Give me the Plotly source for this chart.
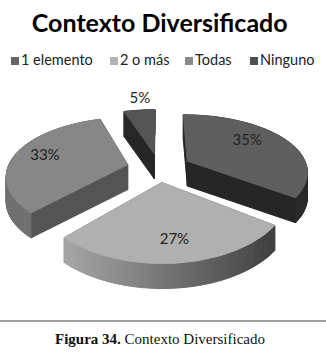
import math
import plotly.graph_objects as go

# Data
categories = ["1 elemento", "2 o más", "Todas", "Ninguno"]
shares = [35, 27, 33, 5]
title_text = "Contexto Diversificado"
caption_bold = "Figura 34."
caption_rest = " Contexto Diversificado"

# Style
top_colors = ["#5f5f5f", "#b0b0b0", "#878787", "#555555"]
legend_colors = ["#666666", "#b4b4b4", "#8a8a8a", "#505050"]
rim_colors = [(42, 42), (165, 62), (112, 128), (40, 40)]
wall_colors = ["#262626", "#555555", "#545454", "#262626"]
explode = [0.27, 0.24, 0.27, 0.26]
label_radius = [0.68, 0.76, 0.74, 1.32]
label_shift = [-8, -1, 0, 2]
legend_x = [15, 114, 189, 254]
LEGEND_Y = 61
CX, CY, R, TILT_R, DIST_X, DIST_Y, DEPTH = 159, 168, 120, 58, 6.0, 5.0, 25


def project(u, v, z=0.0):
    return (CX + R * u * DIST_X / (DIST_X + v),
            CY - TILT_R * v * DIST_Y / (DIST_Y + v) + z * DEPTH)


def poly(points, color):
    xs = [p[0] for p in points] + [points[0][0]]
    ys = [p[1] for p in points] + [points[0][1]]
    return go.Scatter(x=xs, y=ys, mode="lines", fill="toself", fillcolor=color,
                      line=dict(color=color, width=1), showlegend=False, hoverinfo="skip")


fig = go.Figure()
total = sum(shares)
spans = []
a = 0.0
for v in shares:
    b = a + 360.0 * v / total
    spans.append((a, b))
    a = b


def slice_frame(i):
    a0, a1 = spans[i]
    mid = math.radians((a0 + a1) / 2)
    ox, oy = explode[i] * math.sin(mid), explode[i] * math.cos(mid)

    def pt(ang, r=1.0):
        return (ox + r * math.sin(math.radians(ang)), oy + r * math.cos(math.radians(ang)))

    return a0, a1, pt


# back to front
for i in [3, 0, 2, 1]:
    a0, a1, pt = slice_frame(i)
    n = max(6, int((a1 - a0) / 1.5))
    angs = [a0 + (a1 - a0) * k / n for k in range(n + 1)]
    apex = pt(0, 0)
    for ang in (a0, a1):
        e = pt(ang)
        fig.add_trace(poly([project(*apex), project(*e), project(*e, 1), project(*apex, 1)], wall_colors[i]))
    c0, c1 = rim_colors[i]
    for k in range(n):
        p, q = pt(angs[k]), pt(angs[k + 1])
        f = min(1, max(0, (project(*p)[0] - 70) / 210))
        g = int(c1 + (c0 - c1) * (1 - f))
        col = f"rgb({g},{g},{g})"
        fig.add_trace(poly([project(*p), project(*q), project(*q, 1), project(*p, 1)], col))
    top = [project(*apex)] + [project(*pt(x)) for x in angs]
    fig.add_trace(poly(top, top_colors[i]))
    mid = (a0 + a1) / 2 + label_shift[i]
    lx, ly = project(*pt(mid, label_radius[i]))
    fig.add_trace(go.Scatter(x=[lx], y=[ly], mode="text", text=[f"{shares[i]}%"],
                             textfont=dict(family="Lato", size=15, color="#222222"),
                             showlegend=False, hoverinfo="skip"))

# legend row
for name, col, lx in zip(categories, legend_colors, legend_x):
    fig.add_trace(go.Scatter(x=[lx], y=[LEGEND_Y], mode="markers+text", name=name, text=[name],
                             textposition="middle right",
                             textfont=dict(family="Lato", size=14.5, color="#222222"),
                             marker=dict(symbol="square", size=8, color=col), showlegend=False))

fig.add_shape(type="line", xref="paper", yref="y", x0=0, x1=1, y0=321, y1=321,
              line=dict(color="#808080", width=1.5))
fig.add_annotation(x=160, y=338.5, text=f"<b>{caption_bold}</b>{caption_rest}", showarrow=False,
                   font=dict(family="Liberation Serif", size=15, color="#111111"))

fig.update_layout(
    width=326, height=356, margin=dict(l=0, r=0, t=0, b=0),
    paper_bgcolor="white", plot_bgcolor="white",
    title=dict(text=f"<b>{title_text}</b>", x=0.49, xanchor="center", y=0.935, yanchor="middle",
               font=dict(family="Lato", size=25, color="#000000")),
    xaxis=dict(range=[0, 326], visible=False, fixedrange=True),
    yaxis=dict(range=[356, 0], visible=False, fixedrange=True),
)
fig.write_html("out.html", config={"displayModeBar": False},
               post_script="document.body.style.margin='0';")
